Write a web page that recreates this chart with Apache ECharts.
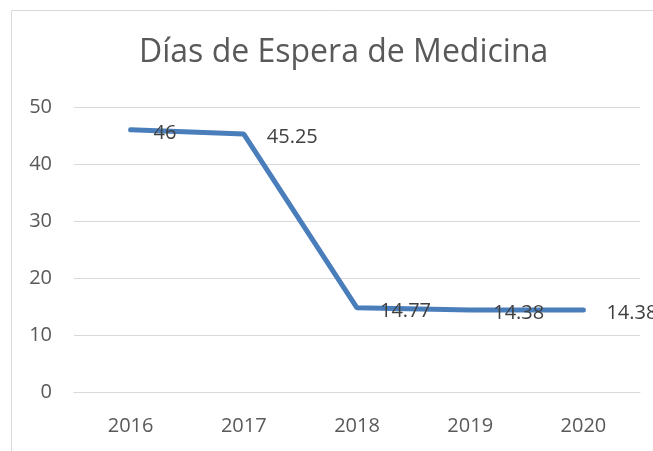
<!DOCTYPE html>
<html>
<head>
<meta charset="utf-8">
<script src="https://cdn.jsdelivr.net/npm/echarts@6/dist/echarts.min.js"></script>
<style>
  html, body { margin: 0; padding: 0; background: #fff; }
  #chart { width: 653px; height: 451px; }
</style>
</head>
<body>
<div id="chart"></div>
<script>
const years = ['2016', '2017', '2018', '2019', '2020']
const diasEspera = [46, 45.25, 14.77, 14.38, 14.38]
const yTicks = [0, 10, 20, 30, 40, 50]

var myChart = echarts.init(document.getElementById('chart'))
let option = {
  backgroundColor: '#fff',
  animation: false,
  textStyle: { fontFamily: 'Open Sans' },
  graphic: [
    {
      type: 'rect',
      left: 9,
      top: 8,
      shape: { width: 700, height: 500 },
      style: { fill: 'none', stroke: '#d9d9d9', lineWidth: 1 },
      silent: true,
    },
  ],
  title: {
    text: 'Días de Espera de Medicina',
    left: 134,
    top: 32,
    textStyle: {
      color: '#595959',
      fontWeight: 400,
      fontSize: 32,
      fontFamily: 'Open Sans',
    },
  },
  grid: {
    left: 74,
    right: 13,
    top: 107,
    bottom: 59,
    containLabel: false,
  },
  xAxis: {
    type: 'category',
    data: years,
    boundaryGap: true,
    axisLine: { show: true, lineStyle: { color: '#d9d9d9', width: 1 } },
    axisTick: { show: false },
    axisLabel: { color: '#595959', fontSize: 20, margin: 24 },
  },
  yAxis: {
    type: 'value',
    min: yTicks[0],
    max: yTicks[yTicks.length - 1],
    interval: 10,
    axisLine: { show: false },
    axisTick: { show: false },
    axisLabel: { color: '#595959', fontSize: 20, margin: 22 },
    splitLine: { lineStyle: { color: '#d9d9d9', width: 1 } },
  },
  series: [
    {
      name: 'Días de espera',
      type: 'line',
      data: diasEspera,
      symbol: 'circle',
      symbolSize: 2,
      showSymbol: true,
      itemStyle: { color: 'rgba(74,126,187,0)' },
      lineStyle: { color: '#4a7ebb', width: 5, cap: 'round' },
      label: {
        show: true,
        position: 'right',
        distance: 22,
        color: '#404040',
        fontSize: 20,
        offset: [0, 3],
      },
    },
  ],
}
myChart.setOption(option)
</script>
</body>
</html>
